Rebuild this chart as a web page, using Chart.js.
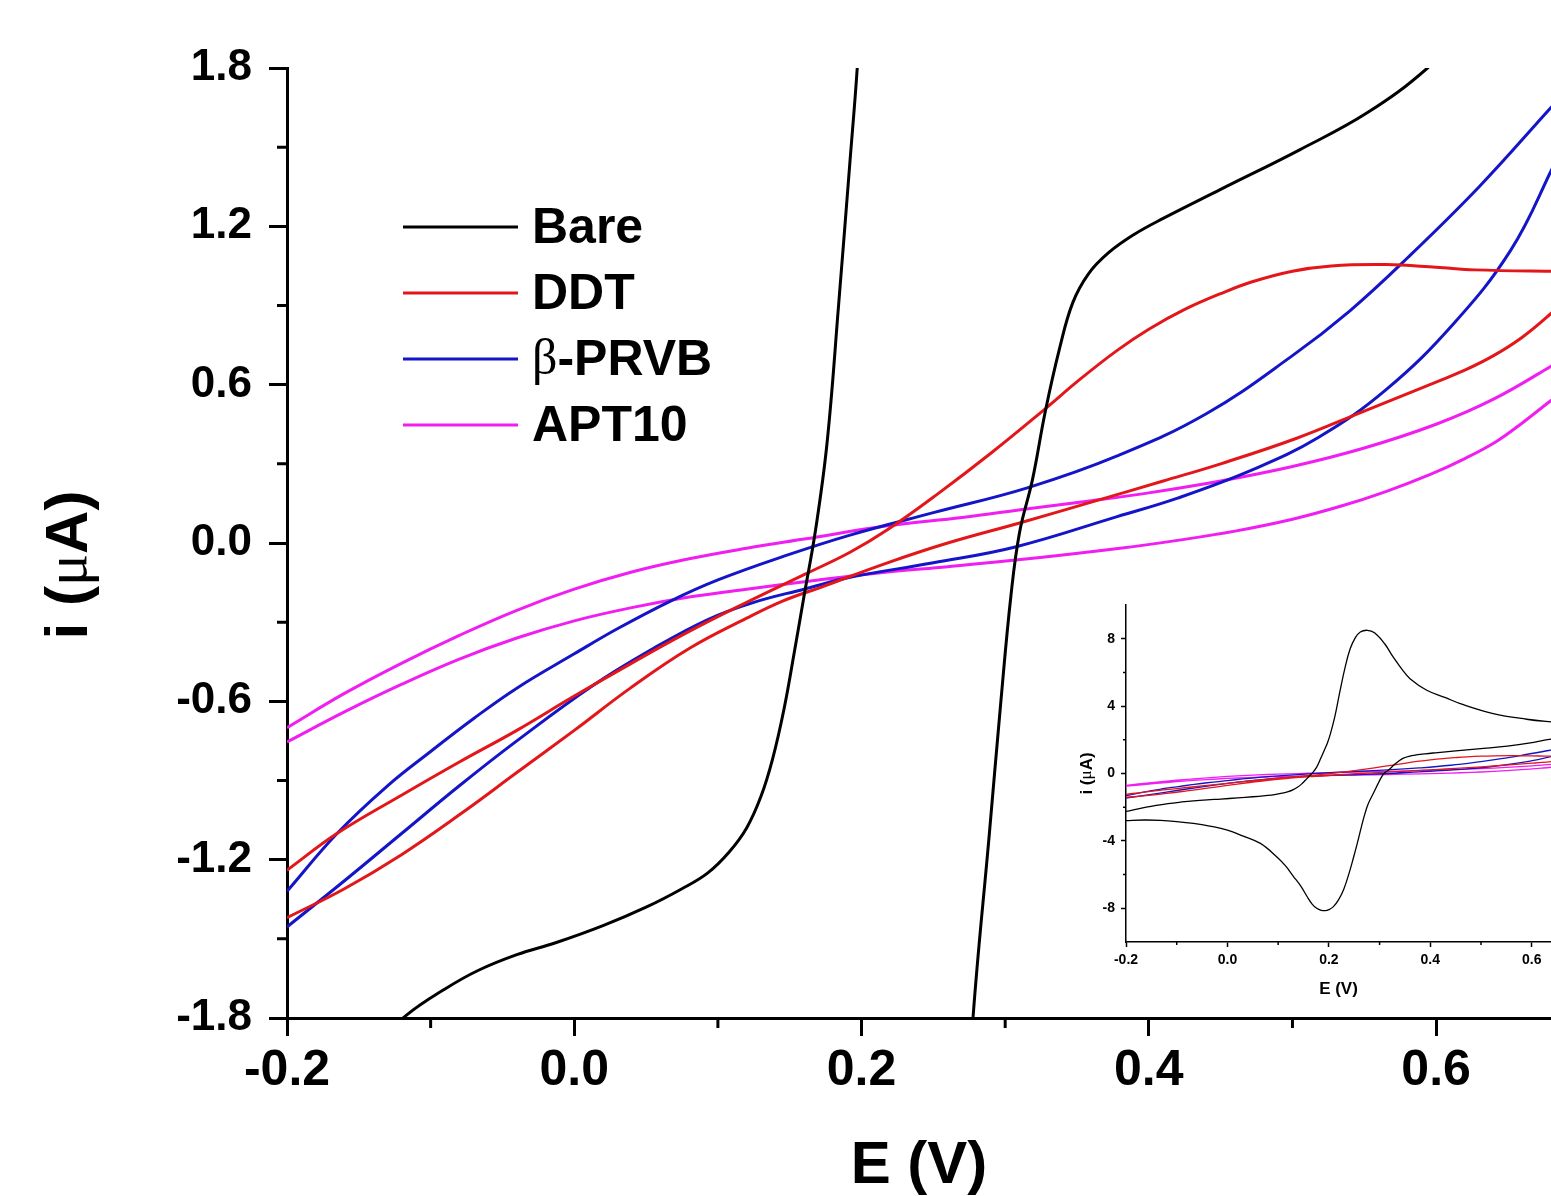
<!DOCTYPE html>
<html>
<head>
<meta charset="utf-8">
<script src="https://cdn.jsdelivr.net/npm/chart.js@4.4.1/dist/chart.umd.min.js"></script>
<style>
  html, body { margin: 0; padding: 0; background: #fff; overflow: hidden; }
  #main { position: absolute; left: 0; top: 0; }
  #inset { position: absolute; left: 1060px; top: 590px; }
</style>
</head>
<body>
<canvas id="main" width="1551" height="1196"></canvas>
<canvas id="inset" width="491" height="420"></canvas>
<script>
// CV curves: forward sweep then reverse sweep, E in V, i in uA
const bareE = [-0.2, -0.16, -0.117, -0.09, -0.067, -0.04, -0.013, 0.02, 0.05, 0.075, 0.093, 0.108, 0.12, 0.13, 0.138, 0.146, 0.153, 0.16, 0.168, 0.176, 0.184, 0.192, 0.197, 0.203, 0.212, 0.222, 0.232, 0.242, 0.252, 0.262, 0.276, 0.29, 0.31, 0.327, 0.345, 0.36, 0.393, 0.43, 0.459, 0.524, 0.59, 0.638, 0.7,
  0.7, 0.638, 0.594, 0.552, 0.505, 0.45, 0.41, 0.39, 0.372, 0.358, 0.347, 0.338, 0.328, 0.319, 0.31, 0.304, 0.297, 0.289, 0.2776, 0.27, 0.263, 0.256, 0.249, 0.239, 0.229, 0.219, 0.209, 0.2, 0.193, 0.185, 0.176, 0.167, 0.157, 0.145, 0.13, 0.115, 0.097, 0.065, 0.03, 0, -0.035, -0.067, -0.1, -0.132, -0.165, -0.2];
const bareI = [-2.25, -2.0, -1.79, -1.69, -1.62, -1.56, -1.515, -1.45, -1.38, -1.31, -1.25, -1.17, -1.08, -0.96, -0.82, -0.63, -0.42, -0.2, 0.05, 0.38, 0.9, 1.45, 1.8, 2.35, 3.4, 4.9, 6.3, 7.4, 8.05, 8.4, 8.5, 8.35, 7.7, 6.9, 6.15, 5.63, 4.94, 4.5, 4.15, 3.56, 3.22, 3.06, 2.9,
  2.3, 2.04, 1.8, 1.63, 1.49, 1.34, 1.23, 1.17, 1.1, 1.02, 0.91, 0.74, 0.5, 0.24, 0.04, -0.2, -0.6, -1.1, -1.8, -2.5, -3.3, -4.15, -4.94, -6.0, -6.9, -7.5, -7.9, -8.08, -8.14, -8.12, -8.0, -7.75, -7.3, -6.7, -6.1, -5.5, -4.94, -4.15, -3.7, -3.36, -3.12, -2.96, -2.85, -2.78, -2.76, -2.8];

const ddtE = [-0.2, -0.165, -0.12, -0.08, -0.04, 0, 0.04, 0.08, 0.12, 0.16, 0.192, 0.218, 0.254, 0.29, 0.326, 0.352, 0.378, 0.4, 0.425, 0.45, 0.472, 0.5, 0.527, 0.565, 0.6, 0.627, 0.68, 0.7,
  0.7, 0.68, 0.66, 0.64, 0.62, 0.6, 0.55, 0.502, 0.45, 0.41, 0.36, 0.31, 0.26, 0.218, 0.173, 0.145, 0.12, 0.08, 0.039, 0, -0.04, -0.08, -0.12, -0.16, -0.2];
const ddtI = [-1.24, -1.1, -0.955, -0.83, -0.71, -0.58, -0.455, -0.335, -0.225, -0.12, -0.035, 0.05, 0.19, 0.34, 0.5, 0.62, 0.73, 0.81, 0.885, 0.945, 0.99, 1.03, 1.05, 1.055, 1.045, 1.035, 1.03, 1.03,
  0.97, 0.87, 0.78, 0.71, 0.655, 0.61, 0.5, 0.395, 0.3, 0.235, 0.155, 0.076, 0.0, -0.075, -0.165, -0.22, -0.285, -0.4, -0.55, -0.71, -0.87, -1.03, -1.18, -1.31, -1.42];

const prvbE = [-0.2, -0.165, -0.13, -0.1, -0.07, -0.04, 0, 0.03, 0.067, 0.1, 0.146, 0.192, 0.25, 0.316, 0.378, 0.44, 0.5, 0.54, 0.58, 0.63, 0.68, 0.7,
  0.7, 0.68, 0.652, 0.612, 0.565, 0.518, 0.472, 0.42, 0.378, 0.307, 0.25, 0.192, 0.16, 0.125, 0.093, 0.055, 0.013, -0.04, -0.08, -0.12, -0.16, -0.2];
const prvbI = [-1.32, -1.1, -0.92, -0.79, -0.665, -0.55, -0.42, -0.325, -0.22, -0.14, -0.05, 0.03, 0.115, 0.21, 0.33, 0.49, 0.71, 0.88, 1.08, 1.35, 1.65, 1.77,
  1.65, 1.41, 1.11, 0.83, 0.58, 0.4, 0.277, 0.17, 0.1, -0.015, -0.075, -0.13, -0.175, -0.225, -0.29, -0.4, -0.54, -0.75, -0.92, -1.1, -1.28, -1.455];

const aptE = [-0.2, -0.16, -0.12, -0.08, -0.04, 0, 0.04, 0.08, 0.12, 0.16, 0.218, 0.27, 0.316, 0.36, 0.4, 0.45, 0.5, 0.55, 0.6, 0.64, 0.68, 0.7,
  0.7, 0.68, 0.66, 0.642, 0.62, 0.596, 0.565, 0.534, 0.5, 0.46, 0.42, 0.38, 0.316, 0.26, 0.218, 0.17, 0.12, 0.08, 0.04, 0, -0.04, -0.08, -0.12, -0.16, -0.2];
const aptI = [-0.7, -0.57, -0.455, -0.35, -0.255, -0.175, -0.11, -0.06, -0.02, 0.015, 0.065, 0.097, 0.13, 0.16, 0.19, 0.235, 0.29, 0.36, 0.45, 0.545, 0.67, 0.74,
  0.62, 0.54, 0.455, 0.385, 0.32, 0.26, 0.195, 0.14, 0.09, 0.045, 0.01, -0.02, -0.06, -0.09, -0.11, -0.14, -0.175, -0.205, -0.245, -0.295, -0.36, -0.44, -0.535, -0.64, -0.754];

const seriesLabels = ["Bare", "DDT", "β-PRVB", "APT10"];
const seriesColors = ["#000000", "#e3161a", "#1414c8", "#f01ef0"];

const xTicks = [-0.2, 0.0, 0.2, 0.4, 0.6];
const xMinor = [-0.1, 0.1, 0.3, 0.5];
const yTicks = [-1.8, -1.2, -0.6, 0.0, 0.6, 1.2, 1.8];
const yMinor = [-1.5, -0.9, -0.3, 0.3, 0.9, 1.5];
const insetYTicks = [-8, -4, 0, 4, 8];
const insetYMinor = [-6, -2, 2, 6];

const toPts = (E, I) => E.map((e, k) => ({ x: e, y: I[k] }));
const curves = [toPts(bareE, bareI), toPts(ddtE, ddtI), toPts(prvbE, prvbI), toPts(aptE, aptI)];

function makeDatasets(width) {
  return curves.map((pts, k) => ({
    label: seriesLabels[k],
    data: pts,
    showLine: true,
    borderColor: seriesColors[k],
    backgroundColor: seriesColors[k],
    borderWidth: width,
    pointRadius: 0,
    tension: 0.4,
    fill: false,
  }));
}

const isGreek = (s) => /[\u0370-\u03ff]/.test(s);
const partFont = (p, size) => isGreek(p) ? size + "px 'Liberation Serif'" : "bold " + size + "px 'Liberation Sans'";

// small outward minor ticks, drawn with the chart's own scales
const minorTicks = {
  id: "minorTicks",
  afterDraw(chart, args, opts) {
    const { ctx, chartArea, scales } = chart;
    ctx.save();
    ctx.strokeStyle = "#000";
    ctx.lineWidth = opts.width;
    ctx.beginPath();
    opts.x.forEach((v) => {
      const px = scales.x.getPixelForValue(v);
      ctx.moveTo(px, chartArea.bottom);
      ctx.lineTo(px, chartArea.bottom + opts.len);
    });
    opts.y.forEach((v) => {
      const py = scales.y.getPixelForValue(v);
      ctx.moveTo(chartArea.left, py);
      ctx.lineTo(chartArea.left - opts.len, py);
    });
    ctx.stroke();
    ctx.restore();
  },
};

// rotated y title, greek letter in a serif face like the original
const yTitle = {
  id: "yTitle",
  afterDraw(chart, args, o) {
    const { ctx, chartArea } = chart;
    const parts = o.text.split(/([\u0370-\u03ff])/).filter(Boolean);
    ctx.save();
    let total = 0;
    parts.forEach((p) => { ctx.font = partFont(p, o.size); total += ctx.measureText(p).width; });
    ctx.translate(o.x, (chartArea.top + chartArea.bottom) / 2 + o.shift);
    ctx.rotate(-Math.PI / 2);
    ctx.textBaseline = "middle";
    ctx.fillStyle = "#000";
    let x = -total / 2;
    parts.forEach((p) => {
      ctx.font = partFont(p, o.size);
      ctx.fillText(p, x, 0);
      x += ctx.measureText(p).width;
    });
    ctx.restore();
  },
};

// legend drawn inside the plot
const cvLegend = {
  id: "cvLegend",
  afterDatasetsDraw(chart, args, opts) {
    const ctx = chart.ctx;
    ctx.save();
    chart.data.datasets.forEach((ds, k) => {
      const y = opts.top + k * opts.gap;
      ctx.strokeStyle = ds.borderColor;
      ctx.lineWidth = 3;
      ctx.beginPath();
      ctx.moveTo(opts.left, y);
      ctx.lineTo(opts.left + opts.lineLen, y);
      ctx.stroke();
      ctx.fillStyle = "#000";
      ctx.textBaseline = "middle";
      let x = opts.textX;
      ds.label.split(/([\u0370-\u03ff])/).filter(Boolean).forEach((p) => {
        ctx.font = partFont(p, opts.size);
        ctx.fillText(p, x, y + 2);
        x += ctx.measureText(p).width;
      });
    });
    ctx.restore();
  },
};

const bold = (size, lh) => ({ family: "'Liberation Sans', Arial, sans-serif", weight: "bold", size: size, lineHeight: lh || 1.2 });

new Chart(document.getElementById("main"), {
  type: "scatter",
  data: { datasets: makeDatasets(3) },
  options: {
    responsive: false,
    animation: false,
    layout: { padding: { top: 68, left: 0, right: 0, bottom: 0 } },
    elements: { line: { capBezierPoints: false } },
    plugins: {
      legend: { display: false },
      tooltip: { enabled: false },
      minorTicks: { x: xMinor, y: yMinor, len: 10, width: 3 },
      cvLegend: { left: 403, top: 227, gap: 66, lineLen: 115, textX: 532, size: 50 },
      yTitle: { text: "i (μA)", size: 60, x: 70, shift: 22 },
    },
    scales: {
      x: {
        type: "linear",
        min: -0.2,
        max: 0.68,
        afterBuildTicks: (s) => { s.ticks = xTicks.map((v) => ({ value: v })); },
        afterFit: (s) => { s.height = 178; },
        border: { color: "#000", width: 3 },
        grid: { drawOnChartArea: false, drawTicks: true, tickLength: 18, tickWidth: 3, tickColor: "#000" },
        ticks: { color: "#000", font: bold(50), padding: 5, maxRotation: 0, autoSkip: false, callback: (v) => v.toFixed(1) },
        title: { display: true, text: "E (V)", color: "#000", font: bold(60, 1.0), padding: { top: 0, bottom: 0 } },
      },
      y: {
        type: "linear",
        min: -1.8,
        max: 1.8,
        afterBuildTicks: (s) => { s.ticks = yTicks.map((v) => ({ value: v })); },
        afterFit: (s) => { s.width = 287; },
        border: { color: "#000", width: 3 },
        grid: { drawOnChartArea: false, drawTicks: true, tickLength: 18, tickWidth: 3, tickColor: "#000" },
        ticks: { color: "#000", font: bold(44), padding: 17, autoSkip: false, callback: (v) => v.toFixed(1) },
      },
    },
  },
  plugins: [minorTicks, cvLegend, yTitle],
});

// inset: full current range of the same curves
new Chart(document.getElementById("inset"), {
  type: "scatter",
  data: { datasets: makeDatasets(1.3) },
  options: {
    responsive: false,
    animation: false,
    layout: { padding: { top: 15, left: 0, right: 0, bottom: 0 } },
    elements: { line: { capBezierPoints: false } },
    plugins: {
      legend: { display: false },
      tooltip: { enabled: false },
      minorTicks: { x: xMinor, y: insetYMinor, len: 3, width: 1.5 },
      yTitle: { text: "i (μA)", size: 17, x: 27, shift: 0 },
    },
    scales: {
      x: {
        type: "linear",
        min: -0.2,
        max: 0.638,
        afterBuildTicks: (s) => { s.ticks = xTicks.map((v) => ({ value: v })); },
        afterFit: (s) => { s.height = 68; },
        border: { color: "#000", width: 1.5 },
        grid: { drawOnChartArea: false, drawTicks: true, tickLength: 5, tickWidth: 1.5, tickColor: "#000" },
        ticks: { color: "#000", font: bold(14), padding: 5, maxRotation: 0, autoSkip: false, callback: (v) => v.toFixed(1) },
        title: { display: true, text: "E (V)", color: "#000", font: bold(17), padding: { top: 0, bottom: 10 } },
      },
      y: {
        type: "linear",
        min: -10,
        max: 10,
        afterBuildTicks: (s) => { s.ticks = insetYTicks.map((v) => ({ value: v })); },
        afterFit: (s) => { s.width = 66; },
        border: { color: "#000", width: 1.5 },
        grid: { drawOnChartArea: false, drawTicks: true, tickLength: 5, tickWidth: 1.5, tickColor: "#000" },
        ticks: { color: "#000", font: bold(14), padding: 6, autoSkip: false, callback: (v) => v.toFixed(0) },
      },
    },
  },
  plugins: [minorTicks, yTitle],
});
</script>
</body>
</html>
